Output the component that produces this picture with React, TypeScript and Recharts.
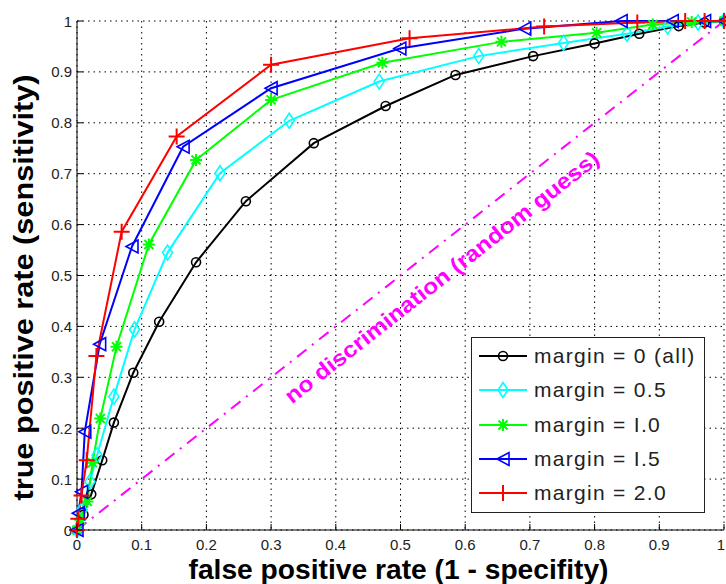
import {
  CartesianGrid,
  Legend,
  Line,
  LineChart,
  ReferenceDot,
  ReferenceLine,
  XAxis,
  YAxis,
} from "recharts";

const W = 726;
const H = 584;
const MARGIN = { top: 21, right: 2, bottom: 0, left: 0 };
const Y_AXIS_W = 77;
const X_AXIS_H = 54;
const PLOT_W = W - MARGIN.left - MARGIN.right - Y_AXIS_W;
const PLOT_H = H - MARGIN.top - MARGIN.bottom - X_AXIS_H;

const FONT = '"Liberation Sans", Arial, Helvetica, sans-serif';

const TICKS = [0, 0.1, 0.2, 0.3, 0.4, 0.5, 0.6, 0.7, 0.8, 0.9, 1];
const TICK_LABELS = ["0", "0.1", "0.2", "0.3", "0.4", "0.5", "0.6", "0.7", "0.8", "0.9", "1"];

const X_TITLE = "false positive rate (1 - specifity)";
const Y_TITLE = "true positive rate (sensitivity)";
const DIAG_LABEL = "no discrimination (random guess)";
const DIAG_LABEL_AT = { x: 0.564, y: 0.497 };

// ROC points
const M0_FPR = [0, 0.01, 0.022, 0.039, 0.057, 0.087, 0.127, 0.184, 0.261, 0.366, 0.477, 0.585, 0.705, 0.8, 0.869, 0.93, 0.97, 1];
const M0_TPR = [0, 0.03, 0.07, 0.137, 0.211, 0.309, 0.409, 0.526, 0.646, 0.76, 0.833, 0.894, 0.931, 0.956, 0.975, 0.99, 0.997, 1];

const M05_FPR = [0, 0.008, 0.02, 0.031, 0.057, 0.089, 0.14, 0.221, 0.328, 0.467, 0.621, 0.752, 0.85, 0.913, 0.96, 1];
const M05_TPR = [0, 0.04, 0.095, 0.147, 0.262, 0.394, 0.545, 0.701, 0.804, 0.881, 0.931, 0.957, 0.975, 0.989, 0.997, 1];

const M10_FPR = [0, 0.005, 0.016, 0.024, 0.036, 0.061, 0.111, 0.184, 0.3, 0.472, 0.656, 0.803, 0.89, 0.95, 1];
const M10_TPR = [0, 0.02, 0.056, 0.132, 0.219, 0.36, 0.561, 0.727, 0.845, 0.918, 0.959, 0.977, 0.993, 0.998, 1];

const M15_FPR = [0, 0.002, 0.007, 0.012, 0.035, 0.085, 0.164, 0.3, 0.499, 0.692, 0.841, 0.92, 0.97, 1];
const M15_TPR = [0, 0.033, 0.075, 0.193, 0.365, 0.557, 0.753, 0.868, 0.946, 0.985, 1, 1, 1, 1];

const M20_FPR = [0, 0.002, 0.007, 0.015, 0.03, 0.069, 0.154, 0.3, 0.514, 0.722, 0.866, 0.94, 0.97, 1];
const M20_TPR = [0, 0.022, 0.068, 0.137, 0.342, 0.586, 0.773, 0.914, 0.966, 0.989, 0.997, 1, 1, 1];

type MarkerKind = "circle" | "diamond" | "star" | "triangle" | "plus";

const SERIES: { name: string; color: string; marker: MarkerKind; fpr: number[]; tpr: number[] }[] = [
  { name: "margin = 0 (all)", color: "#000000", marker: "circle", fpr: M0_FPR, tpr: M0_TPR },
  { name: "margin = 0.5", color: "#00ffff", marker: "diamond", fpr: M05_FPR, tpr: M05_TPR },
  { name: "margin = I.0", color: "#00ff00", marker: "star", fpr: M10_FPR, tpr: M10_TPR },
  { name: "margin = I.5", color: "#0000ff", marker: "triangle", fpr: M15_FPR, tpr: M15_TPR },
  { name: "margin = 2.0", color: "#ff0000", marker: "plus", fpr: M20_FPR, tpr: M20_TPR },
];

function toPoints(fpr: number[], tpr: number[]) {
  return fpr.map((x, i) => ({ x, y: tpr[i] }));
}

function Marker({ kind, cx, cy, color }: { kind: MarkerKind; cx: number; cy: number; color: string }) {
  const common = { fill: "none", stroke: color, strokeWidth: 1.6 };
  if (kind === "circle") return <circle cx={cx} cy={cy} r={4.5} {...common} />;
  if (kind === "diamond")
    return <path d={`M${cx},${cy - 7.5}L${cx + 5},${cy}L${cx},${cy + 7.5}L${cx - 5},${cy}Z`} {...common} />;
  if (kind === "triangle")
    return <path d={`M${cx - 6},${cy}L${cx + 6},${cy - 6.5}L${cx + 6},${cy + 6.5}Z`} {...common} />;
  if (kind === "star")
    return (
      <path
        d={`M${cx},${cy - 6}V${cy + 6}M${cx - 6},${cy}H${cx + 6}M${cx - 4.5},${cy - 4.5}L${cx + 4.5},${cy + 4.5}M${cx - 4.5},${cy + 4.5}L${cx + 4.5},${cy - 4.5}`}
        {...common}
        strokeWidth={2}
      />
    );
  return <path d={`M${cx},${cy - 8}V${cy + 8}M${cx - 8},${cy}H${cx + 8}`} {...common} strokeWidth={2} />;
}

function BottomTick({ x, y, payload }: any) {
  const i = TICKS.indexOf(payload.value);
  // keep the last label ("1") inside the picture
  const tx = Math.min(x, W - 5);
  return (
    <g>
      <line x1={x} x2={x} y1={y} y2={y - 6} stroke="#000" />
      <text x={tx} y={y + 20} textAnchor="middle" fontSize={15} fill="#222" fontFamily={FONT}>
        {TICK_LABELS[i]}
      </text>
    </g>
  );
}

function LeftTick({ x, y, payload }: any) {
  const i = TICKS.indexOf(payload.value);
  return (
    <g>
      <line x1={x} x2={x + 6} y1={y} y2={y} stroke="#000" />
      <text x={x - 5} y={y + 5.5} textAnchor="end" fontSize={15} fill="#222" fontFamily={FONT}>
        {TICK_LABELS[i]}
      </text>
    </g>
  );
}

function TopTick({ x, y }: any) {
  return <line x1={x} x2={x} y1={y} y2={y + 6} stroke="#000" />;
}

function RightTick({ x, y }: any) {
  return <line x1={x} x2={x - 6} y1={y} y2={y} stroke="#000" />;
}

function XTitle({ viewBox }: any) {
  const { x, y, width, height } = viewBox;
  return (
    <text
      x={x + width / 2 - 2}
      y={y + height - 5.5}
      textAnchor="middle"
      fontSize={27}
      fontWeight={700}
      fontFamily={FONT}
      fill="#000"
      textLength={420}
      lengthAdjust="spacingAndGlyphs"
    >
      {X_TITLE}
    </text>
  );
}

function YTitle({ viewBox }: any) {
  const { y, height } = viewBox;
  const cx = 33;
  const cy = y + height / 2 + 12;
  return (
    <text
      x={cx}
      y={cy}
      transform={`rotate(-90, ${cx}, ${cy})`}
      textAnchor="middle"
      fontSize={27}
      fontWeight={700}
      fontFamily={FONT}
      fill="#000"
      textLength={426}
      lengthAdjust="spacingAndGlyphs"
    >
      {Y_TITLE}
    </text>
  );
}

function DiagText({ cx, cy }: any) {
  const angle = (Math.atan2(PLOT_H, PLOT_W) * 180) / Math.PI;
  return (
    <text
      x={cx}
      y={cy}
      transform={`rotate(${-angle}, ${cx}, ${cy})`}
      textAnchor="middle"
      dominantBaseline="central"
      fontSize={22}
      fontWeight={700}
      fontFamily={FONT}
      fill="#ff00ff"
      textLength={393}
      lengthAdjust="spacingAndGlyphs"
    >
      {DIAG_LABEL}
    </text>
  );
}

function LegendBox() {
  return (
    <div
      style={{
        boxSizing: "border-box",
        width: 234,
        height: 176,
        border: "1.5px solid #222",
        background: "#fff",
        padding: "1px 0",
        fontFamily: FONT,
      }}
    >
      {SERIES.map((s) => (
        <div key={s.name} style={{ display: "flex", alignItems: "center", height: 34.3 }}>
          <svg width={62} height={34} style={{ flex: "none" }}>
            <line x1={7} x2={55} y1={17} y2={17} stroke={s.color} strokeWidth={2} />
            <Marker kind={s.marker} cx={31} cy={17} color={s.color} />
          </svg>
          <span
            style={{
              fontSize: 21,
              letterSpacing: 1.3,
              color: "#222",
              whiteSpace: "pre",
              lineHeight: "34px",
            }}
          >
            {s.name}
          </span>
        </div>
      ))}
    </div>
  );
}

export default function App() {
  return (
    <div>
      <style>{"body{margin:0;background:#fff}"}</style>
      <LineChart width={W} height={H} margin={MARGIN} style={{ fontFamily: FONT }}>
        <CartesianGrid stroke="#000" strokeDasharray="1.5 4" strokeWidth={1} />
        <XAxis
          type="number"
          dataKey="x"
          domain={[0, 1]}
          ticks={TICKS}
          interval={0}
          height={X_AXIS_H}
          tickSize={0}
          tickMargin={0}
          tickLine={false}
          axisLine={{ stroke: "#000", strokeWidth: 1 }}
          tick={<BottomTick />}
          label={<XTitle />}
        />
        <XAxis
          xAxisId="top"
          orientation="top"
          type="number"
          dataKey="x"
          domain={[0, 1]}
          ticks={TICKS}
          interval={0}
          height={0}
          tickSize={0}
          tickMargin={0}
          tickLine={false}
          axisLine={{ stroke: "#000", strokeWidth: 1 }}
          tick={<TopTick />}
        />
        <YAxis
          type="number"
          domain={[0, 1]}
          ticks={TICKS}
          interval={0}
          width={Y_AXIS_W}
          tickSize={0}
          tickMargin={0}
          tickLine={false}
          axisLine={{ stroke: "#000", strokeWidth: 1 }}
          tick={<LeftTick />}
          label={<YTitle />}
        />
        <YAxis
          yAxisId="right"
          orientation="right"
          type="number"
          domain={[0, 1]}
          ticks={TICKS}
          interval={0}
          width={0}
          tickSize={0}
          tickMargin={0}
          tickLine={false}
          axisLine={{ stroke: "#000", strokeWidth: 1 }}
          tick={<RightTick />}
        />
        <ReferenceLine
          segment={[
            { x: 0, y: 0 },
            { x: 1, y: 1 },
          ]}
          stroke="#ff00ff"
          strokeWidth={2}
          strokeDasharray="12 7 2 7"
        />
        <ReferenceDot
          x={DIAG_LABEL_AT.x}
          y={DIAG_LABEL_AT.y}
          r={0}
          shape={(p: any) => <DiagText cx={p.cx} cy={p.cy} />}
        />
        {SERIES.map((s) => (
          <Line
            key={s.name}
            name={s.name}
            data={toPoints(s.fpr, s.tpr)}
            dataKey="y"
            type="linear"
            stroke={s.color}
            strokeWidth={2}
            dot={(p: any) => (
              <Marker key={`${s.marker}-${p.index}`} kind={s.marker} cx={p.cx} cy={p.cy} color={s.color} />
            )}
            activeDot={false}
            isAnimationActive={false}
          />
        ))}
        <Legend
          layout="vertical"
          align="center"
          verticalAlign="middle"
          wrapperStyle={{ position: "absolute", left: 471, top: 337, width: 234, height: 176 }}
          content={() => <LegendBox />}
        />
      </LineChart>
    </div>
  );
}
